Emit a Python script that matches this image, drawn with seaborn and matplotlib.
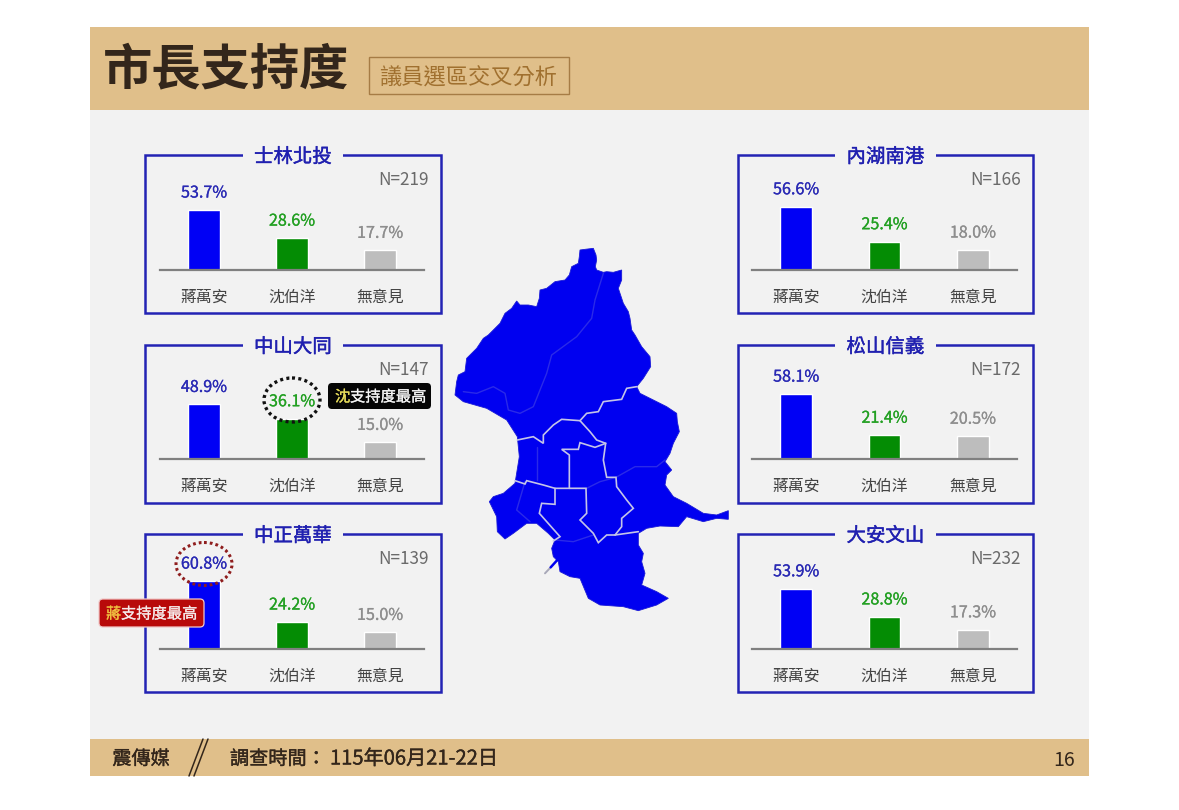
import matplotlib
matplotlib.use("Agg")
import matplotlib.pyplot as plt
from matplotlib.patches import Rectangle, FancyBboxPatch, Ellipse, Polygon
import matplotlib.patheffects as pe
import numpy as np
import pandas as pd
import seaborn as sns

sns.set_theme(style="white")
plt.rcParams["font.family"] = ["Noto Sans CJK TC", "DejaVu Sans"]

# Survey results by council district
candidates = ["蔣萬安", "沈伯洋", "無意見"]
left_districts = ["士林北投", "中山大同", "中正萬華"]
right_districts = ["內湖南港", "松山信義", "大安文山"]
left_n = [219, 147, 139]
right_n = [166, 172, 232]
left_chiang = [53.7, 48.9, 60.8]
left_shen = [28.6, 36.1, 24.2]
left_none = [17.7, 15.0, 15.0]
right_chiang = [56.6, 58.1, 53.9]
right_shen = [25.4, 21.4, 28.8]
right_none = [18.0, 20.5, 17.3]

BAR_COLORS = ["#0000f5", "#048c04", "#bdbdbd"]
LABEL_COLORS = ["#2a2ab4", "#23a023", "#8e8e8e"]
TAN = "#e0bf8a"
PANEL_BG = "#f2f2f2"
FRAME = "#2323b4"
DARK = "#33261b"
W, H = 1179, 810
PX_PER_PCT = 1.12

# Taipei outline and district boundaries, in sheet pixels scaled by 3 from (440, 240)
city_outline = [(420,30),(435,28),(460,25),(468,45),(470,60),(466,80),(470,90),(490,97),(500,95),(520,97),(545,90),
    (545,120),(535,145),(550,190),(565,215),(570,235),(575,270),(585,285),(605,320),(630,350),(632,380),
    (610,415),(590,440),(600,460),(640,480),(680,500),(710,520),(712,545),(718,575),(700,610),(690,640),
    (675,665),(695,690),(680,705),(675,735),(700,770),(740,790),(790,820),(830,825),(865,812),(865,838),
    (830,835),(790,845),(740,830),(715,860),(660,858),(620,865),(595,880),(595,915),(610,940),(605,965),
    (615,1000),(605,1035),(650,1055),(685,1075),(650,1095),(595,1112),(550,1100),(480,1095),(445,1075),(420,1015),
    (390,1010),(360,995),(355,965),(340,950),(335,925),(345,900),(325,880),(290,850),(260,850),(220,880),
    (195,897),(172,875),(170,830),(148,785),(160,770),(190,760),(225,730),(238,650),(232,590),(200,540),
    (140,505),(70,485),(45,465),(50,425),(55,405),(75,395),(80,355),(110,325),(130,295),(145,285),
    (165,265),(180,250),(195,220),(215,205),(230,183),(240,195),(265,195),(290,200),(298,175),(300,150),
    (320,145),(345,125),(375,120),(388,105),(395,80),(415,70),(418,50)]
bright_borders = [
    [(232,600),(280,590),(310,610),(310,585),(340,555),(365,538),(420,542),(440,520),(475,515),(490,485),(545,478),(560,445),(590,440)],
    [(420,542),(450,575),(470,600),(497,610),(490,660),(500,712),(528,712),(530,740),(560,780),(580,805),(545,835),(545,860),(525,885),(500,885),(475,908),(460,880),(420,840),(440,820),(438,745),(345,745),(310,735),(260,722),(255,732),(225,722)],
    [(497,610),(465,622),(420,608),(415,628),(365,628),(388,645),(388,745)],
    [(345,745),(345,793),(305,790),(298,820),(360,890),(340,903)],
    [(525,885),(595,875)],
]
faint_borders = [
    [(490,100),(465,180),(455,235),(410,290),(335,345),(320,400),(280,500),(240,520),(205,510),(195,460),(160,440),(110,460),(70,455)],
    [(290,620),(290,720)],
    [(528,712),(585,680),(650,680),(675,660)],
    [(255,725),(230,810),(270,845)],
    [(345,900),(400,905),(460,885)],
    [(388,745),(440,745),(480,725),(528,712)],
]
islet_line = [(315,1000),(332,982)]
islet_stem = [(332,982),(352,960)]


def to_sheet(points):
    pts = np.array(points, dtype=float)
    return pts[:, 0] / 3 + 440, pts[:, 1] / 3 + 240


def heavier(color, width=0.18):
    """Thin outline that gives regular-weight text a medium look."""
    return [pe.withStroke(linewidth=width, foreground=color)]


fig = plt.figure(figsize=(W / 100, H / 100), dpi=100, facecolor="white")

# Sheet layer, drawn in pixel coordinates
bg = fig.add_axes([0, 0, 1, 1], zorder=0)
bg.set_xlim(0, W)
bg.set_ylim(H, 0)
bg.axis("off")
bg.add_patch(Rectangle((90, 27), 999, 712, fc=PANEL_BG, ec="none"))
bg.add_patch(Rectangle((90, 27), 999, 83, fc=TAN, ec="none"))
bg.add_patch(Rectangle((90, 739), 999, 37, fc=TAN, ec="none"))

bg.text(103, 71, "市長支持度", fontsize=35.5, fontweight="bold", color=DARK, va="center", ha="left")
bg.add_patch(Rectangle((369, 57), 200, 37, fc="none", ec="#a67c45", lw=1))
bg.text(468, 78, "議員選區交叉分析", fontsize=16, color="#a0702f", va="center", ha="center")

bg.text(141, 759, "震傳媒", fontsize=13.8, color=DARK, va="center", ha="center", path_effects=heavier(DARK, 0.25))
bg.plot([189, 203], [776, 739], color=DARK, lw=1.1)
bg.plot([194, 208], [776, 739], color=DARK, lw=1.1)
bg.text(230, 759, "調查時間：", fontsize=13.8, color=DARK, va="center", ha="left", path_effects=heavier(DARK, 0.25))
bg.text(330, 759, "115年06月21-22日", fontsize=14.5, color=DARK, va="center", ha="left", path_effects=heavier(DARK, 0.25))
bg.text(1064, 760, "16", fontsize=14, color=DARK, va="center", ha="center")

# City map
bg.add_patch(Polygon(np.column_stack(to_sheet(city_outline)), closed=True, fc="#0000f0", ec="#1a1ad8", lw=0.6))
for line in faint_borders:
    bg.plot(*to_sheet(line), color="#2a2ae8", lw=1.0, solid_joinstyle="round")
for line in bright_borders:
    bg.plot(*to_sheet(line), color="#c4c4e8", lw=1.2, solid_joinstyle="miter")
bg.plot(*to_sheet(islet_line), color="#a8a8b8", lw=1.4)
bg.plot(*to_sheet(islet_stem), color="#0000f0", lw=1.8)


def draw_panel(left, frame_width, axis_left, axis_width, top, base, name, n, values):
    right = left + frame_width

    bg.add_patch(Rectangle((left, top), frame_width, 158, fc="none", ec=FRAME, lw=1.8))
    bg.text(left + frame_width / 2, top + 2, name, fontsize=14, color="#2020b0", va="center", ha="center",
            path_effects=heavier("#2020b0", 0.3), bbox=dict(fc=PANEL_BG, ec="none", pad=8))
    bg.text(right - 12, top + 25, f"N={n}", fontsize=12.4, color="#6a6a6a", va="center", ha="right")

    ax_h = 100
    ax = fig.add_axes([axis_left / W, 1 - base / H, axis_width / W, ax_h / H], zorder=1)
    ax.patch.set_alpha(0)
    df = pd.DataFrame({"candidate": candidates, "share": values})
    sns.barplot(data=df, x="candidate", y="share", hue="candidate", palette=BAR_COLORS, order=candidates,
                hue_order=candidates, width=0.355, legend=False, saturation=1, ax=ax)
    ax.set_xlim(-0.5, 2.5)
    ax.set_ylim(0, ax_h / PX_PER_PCT)
    ax.set_xlabel("")
    ax.set_ylabel("")
    ax.set_yticks([])
    for side in ("top", "left", "right"):
        ax.spines[side].set_visible(False)
    ax.spines["bottom"].set_color("#808080")
    ax.spines["bottom"].set_linewidth(1.6)
    ax.tick_params(axis="x", length=0, pad=13.6, labelsize=11.4, labelcolor="#444444")
    for container, color in zip(ax.containers, LABEL_COLORS):
        labels = ax.bar_label(container, fmt="%.1f%%", padding=6, fontsize=11.6, color=color)
        for label in labels:
            label.set_path_effects(heavier(color))
    return ax


tops = [155, 345, 534]
bases = [270, 459, 649]
for i in range(3):
    draw_panel(145, 296, 160, 264, tops[i], bases[i], left_districts[i], left_n[i],
               [left_chiang[i], left_shen[i], left_none[i]])
    draw_panel(738, 295, 752, 265, tops[i], bases[i], right_districts[i], right_n[i],
               [right_chiang[i], right_shen[i], right_none[i]])

# Highlight layer above the bars
top = fig.add_axes([0, 0, 1, 1], zorder=2)
top.set_xlim(0, W)
top.set_ylim(H, 0)
top.axis("off")
top.patch.set_alpha(0)

top.add_patch(Ellipse((292, 400), 56, 44, fc="none", ec="#111111", lw=2.4, ls=(0, (0.9, 1.0))))
top.add_patch(Ellipse((204, 564), 56, 43, fc="none", ec="#8f1d1d", lw=2.2, ls=(0, (0.9, 1.0))))

top.add_patch(FancyBboxPatch((328, 383), 103, 26, boxstyle="round,pad=0,rounding_size=4", fc="#060606", ec="none"))
top.text(335, 397, "沈", fontsize=11, color="#e6dc5a", va="center", ha="left", path_effects=heavier("#e6dc5a"))
top.text(350, 397, "支持度最高", fontsize=11, color="#f4f4f4", va="center", ha="left", path_effects=heavier("#f4f4f4"))

top.add_patch(FancyBboxPatch((99, 599), 105, 28, boxstyle="round,pad=0,rounding_size=4", fc="#b80a0a", ec="#f0c8c8", lw=0.9))
top.text(106, 614, "蔣", fontsize=11, color="#f0c040", va="center", ha="left", path_effects=heavier("#f0c040"))
top.text(121, 614, "支持度最高", fontsize=11, color="#f6eaea", va="center", ha="left", path_effects=heavier("#f6eaea"))

fig.savefig("out.png", dpi=100, facecolor="white")
